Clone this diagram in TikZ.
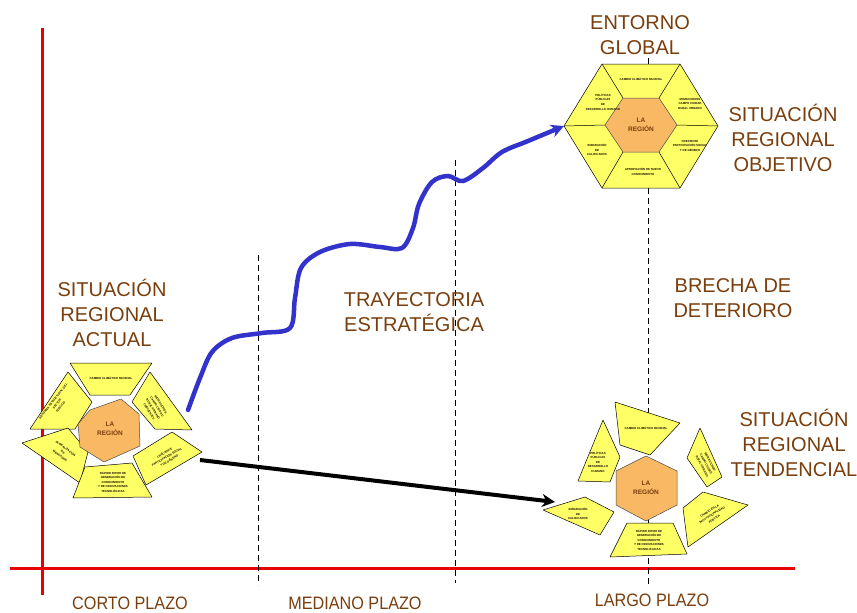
\documentclass[tikz,border=0pt]{standalone}
\usepackage{fontspec}
\setmainfont{Liberation Sans}
\newfontfamily\narrowfont[FakeStretch=0.9]{Liberation Sans}
\usetikzlibrary{arrows.meta}
\definecolor{brownlbl}{RGB}{122,62,12}
\definecolor{axisred}{RGB}{235,0,0}
\definecolor{pathblue}{RGB}{51,51,204}
\definecolor{pieceyellow}{RGB}{255,255,102}
\definecolor{coreorange}{RGB}{248,184,100}
\tikzset{
    axis_line/.style = {draw=axisred, line width=3pt},
    divider/.style = {draw=black, line width=0.7pt, dash pattern=on 6pt off 4pt},
    title_txt/.style = {align=center, text=brownlbl, font=\fontsize{20}{25}\selectfont, inner sep=0pt},
    horizon_txt/.style = {text=brownlbl, font=\narrowfont\fontsize{18}{20}\selectfont, inner sep=0pt},
    piece/.style = {fill=pieceyellow, draw=black, line width=0.5pt, line join=round},
    core/.style = {fill=coreorange, draw=black!70, line width=0.5pt, line join=round},
    piece_txt/.style = {align=center, text=black!80!brownlbl, font=\bfseries\fontsize{2.9}{4.6}\selectfont, inner sep=0pt},
    core_txt/.style = {align=center, text=brownlbl, font=\bfseries\fontsize{6.5}{8.5}\selectfont, inner sep=0pt}
}

\begin{document}
\begin{tikzpicture}[x=1pt, y=-1pt]
    \useasboundingbox (0,0) rectangle (857,613);

    % ejes
    \draw[axis_line] (42,28) -- (42,595);
    \draw[axis_line] (10,568) -- (795,568);

    % cortes de plazo
    \draw[divider] (258,255) -- (258,585);
    \draw[divider] (455,160) -- (455,583);
    \draw[divider] (648,58) -- (648,585);

    % --- situacion regional objetivo (hexagono)
    \coordinate (obj_left) at (564,126);
    \draw[piece] (obj_left) -- (602,64) -- (680,64) -- (718,126) -- (680,188) -- (602,188) -- cycle;
    \draw[piece] (564,126) -- (605,125) (602,64) -- (623,98) (680,64) -- (659,98)
                 (718,126) -- (677,125) (680,188) -- (659,152) (602,188) -- (623,152);
    \draw[core] (605,125) -- (623,98) -- (659,98) -- (677,125) -- (659,152) -- (623,152) -- cycle;
    \node[core_txt] (obj_core) at (641,125) {LA\\REGIÓN};
    \node[piece_txt] (obj_clima) at (641,79) {CAMBIO CLIMÁTICO MUNDIAL};
    \node[piece_txt] (obj_politicas) at (603,102) {POLÍTICAS\\PÚBLICAS\\DE\\DESARROLLO HUMANO};
    \node[piece_txt] (obj_migra) at (690,104) {MIGRACIONES\\CAMPO CIUDAD\\RURAL URBANO};
    \node[piece_txt] (obj_genero) at (690,146) {CRECIENTE\\PARTICIPACIÓN SOCIAL\\Y DE GÉNERO};
    \node[piece_txt] (obj_conoc) at (643,172) {APROPIACIÓN DE NUEVO\\CONOCIMIENTO};
    \node[piece_txt] (obj_emigra) at (597,150) {EMIGRACIÓN\\DE\\CALIFICADOS};

    % --- situacion regional actual
    \draw[piece] (70,363) -- (152,363) -- (130,395) -- (90,395) -- cycle;
    \draw[piece] (68,372) -- (92,402) -- (75,429) -- (30,429) -- cycle;
    \draw[piece] (150,372) -- (132,402) -- (155,429) -- (192,430) -- cycle;
    \draw[piece] (22,443) -- (68,428) -- (88,452) -- (80,483) -- cycle;
    \draw[piece] (133,456) -- (172,432) -- (202,452) -- (146,485) -- cycle;
    \draw[piece] (85,467) -- (132,463) -- (152,497) -- (73,498) -- cycle;
    \draw[core] (90,410) -- (121,399) -- (139,414) -- (140,446) -- (104,462) -- (80,447) -- (78,424) -- cycle;
    \node[core_txt] (act_core) at (110,429) {LA\\REGIÓN};
    \node[piece_txt] (act_clima) at (111,378) {CAMBIO CLIMÁTICO MUNDIAL};
    \node[piece_txt, rotate=52] (act_reforma) at (57,404) {REFORMA ESTRUCTURAL DEL\\SECTOR\\PÚBLICO};
    \node[piece_txt, rotate=-58] (act_migra) at (155,408) {MIGRACIONES\\CAMPO CIUDAD\\RURAL URBANO\\CRECIENTES};
    \node[piece_txt, rotate=-37] (act_global) at (63,452) {GLOBALIZACIÓN\\DE\\MERCADOS};
    \node[piece_txt, rotate=30] (act_genero) at (167,457) {CRECIENTE\\PARTICIPACIÓN SOCIAL\\Y DE GÉNERO};
    \node[piece_txt] (act_ritmo) at (113,482) {RÁPIDO RITMO DE\\GENERACIÓN DE\\CONOCIMIENTO\\Y DE INNOVACIONES\\TECNOLÓGICAS};

    % --- situacion regional tendencial
    \draw[piece] (615,402) -- (680,423) -- (650,455) -- (620,445) -- cycle;
    \draw[piece] (603,420) -- (620,457) -- (610,482) -- (578,481) -- cycle;
    \draw[piece] (700,428) -- (722,477) -- (707,487) -- (687,458) -- cycle;
    \draw[piece] (703,492) -- (748,505) -- (688,547) -- (683,508) -- cycle;
    \draw[piece] (627,523) -- (673,523) -- (687,554) -- (610,557) -- cycle;
    \draw[piece] (543,510) -- (585,497) -- (614,512) -- (600,535) -- cycle;
    \draw[core] (646,456) -- (677,471) -- (677,505) -- (646,521) -- (616,505) -- (616,471) -- cycle;
    \node[core_txt] (tend_core) at (646,488) {LA\\REGIÓN};
    \node[piece_txt] (tend_clima) at (646,428) {CAMBIO CLIMÁTICO MUNDIAL};
    \node[piece_txt] (tend_politicas) at (598,462) {POLÍTICAS\\PÚBLICAS\\DE\\DESARROLLO\\HUMANO};
    \node[piece_txt, rotate=-62] (tend_migra) at (706,464) {MIGRACIONES\\CAMPO CIUDAD\\RURAL URBANO};
    \node[piece_txt, rotate=32] (tend_cambio) at (712,515) {CAMBIO EN LA\\INSTITUCIONALIDAD\\PÚBLICA};
    \node[piece_txt] (tend_ritmo) at (649,540) {RÁPIDO RITMO DE\\GENERACIÓN DE\\CONOCIMIENTO\\Y DE INNOVACIONES\\TECNOLÓGICAS};
    \node[piece_txt] (tend_emigra) at (578,514) {EMIGRACIÓN\\DE\\CALIFICADOS};

    % trayectorias
    \coordinate (tray_start) at (188,410);
    \coordinate (act_right) at (200,460);
    \coordinate (tend_left) at (555,502);
    \draw[pathblue, line width=4.5pt, line cap=round, -{Stealth[length=13pt, width=13pt]}]
        plot[smooth, tension=0.55] coordinates {(tray_start) (200,378) (212,352) (232,338) (262,333)
        (290,328) (295,298) (301,268) (320,252) (350,244) (380,247) (402,248) (413,228)
        (419,204) (432,182) (448,176) (463,181) (483,168) (502,152) (528,141) (obj_left)};
    \draw[black, line width=4pt, -{Stealth[length=13pt, width=13pt]}] (act_right) -- (tend_left);

    % textos
    \node[title_txt] (t_entorno) at (640,35) {ENTORNO\\GLOBAL};
    \node[title_txt] (t_objetivo) at (783,138) {SITUACIÓN\\REGIONAL\\OBJETIVO};
    \node[title_txt] (t_brecha) at (733,298) {BRECHA DE\\DETERIORO};
    \node[title_txt] (t_trayectoria) at (414,312) {TRAYECTORIA\\ESTRATÉGICA};
    \node[title_txt] (t_tendencial) at (794,443) {SITUACIÓN\\REGIONAL\\TENDENCIAL};
    \node[title_txt] (t_actual) at (112,313) {SITUACIÓN\\REGIONAL\\ACTUAL};
    \node[horizon_txt] (h_corto) at (130,603) {CORTO PLAZO};
    \node[horizon_txt] (h_mediano) at (355,603) {MEDIANO PLAZO};
    \node[horizon_txt] (h_largo) at (652,600) {LARGO PLAZO};
\end{tikzpicture}
\end{document}
